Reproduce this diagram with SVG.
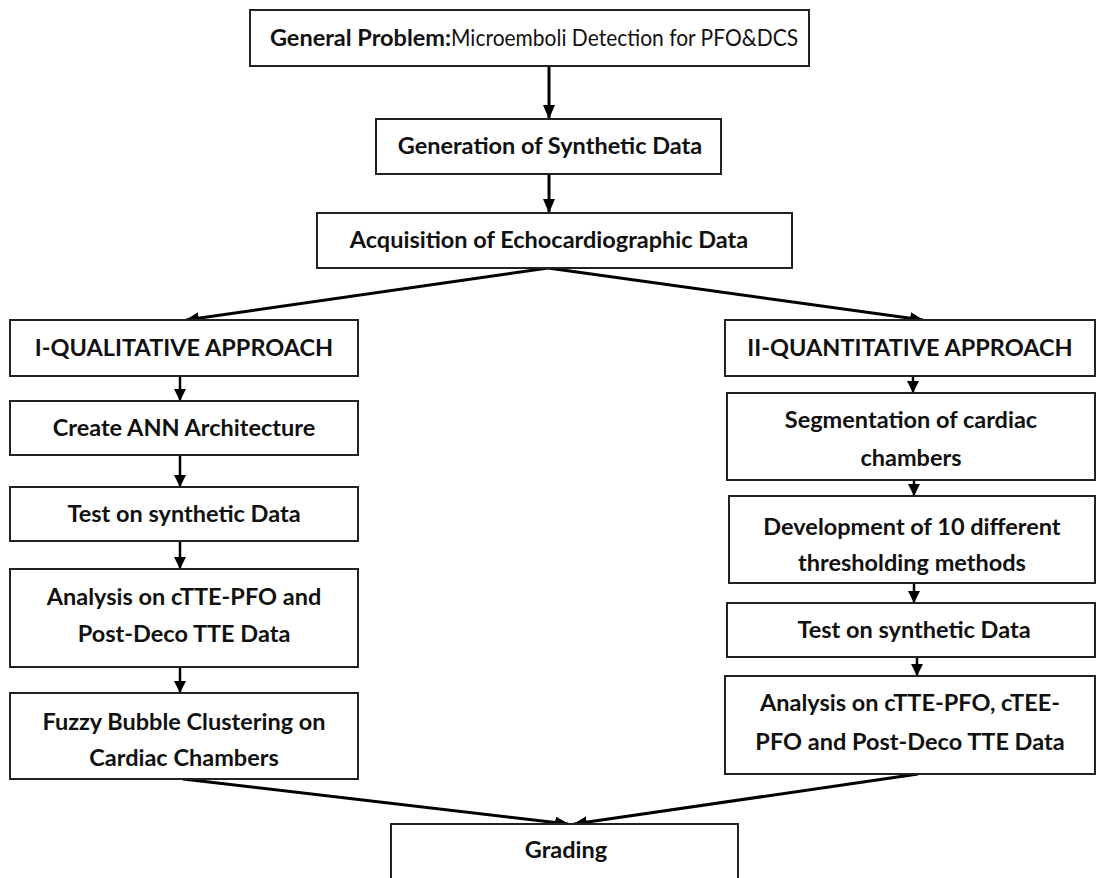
<svg xmlns="http://www.w3.org/2000/svg" width="1097" height="878" viewBox="0 0 1097 878">
<style>
.box{fill:#fff;stroke:#222;stroke-width:2}
.t{font-family:Lato,"Liberation Sans",sans-serif;font-weight:bold;font-size:23.5px;fill:#111;text-anchor:middle}
.r{font-weight:normal}
.c{stroke:#000;stroke-width:3;fill:none}
.s{stroke:#000;stroke-width:2.5;fill:none}
</style>
<defs>
<marker id="ah" markerUnits="userSpaceOnUse" markerWidth="14" markerHeight="12" refX="13" refY="6" orient="auto">
<path d="M0,0 L14,6 L0,12 Z" fill="#000"/>
</marker>
<marker id="ahs" markerUnits="userSpaceOnUse" markerWidth="12" markerHeight="12" refX="11" refY="6" orient="auto">
<path d="M0,0 L12,6 L0,12 Z" fill="#000"/>
</marker>
</defs>
<rect width="1097" height="878" fill="#fff"/>
<g id="connectors">
<line class="c" x1="549" y1="66" x2="549" y2="118" marker-end="url(#ah)"/>
<line class="c" x1="549" y1="174" x2="549" y2="212" marker-end="url(#ah)"/>
<line class="c" x1="548" y1="268" x2="186" y2="320" marker-end="url(#ah)"/>
<line class="c" x1="548" y1="268" x2="923" y2="320" marker-end="url(#ah)"/>
<line class="s" x1="180" y1="376" x2="180" y2="400" marker-end="url(#ahs)"/>
<line class="s" x1="180" y1="455" x2="180" y2="486" marker-end="url(#ahs)"/>
<line class="s" x1="180" y1="541" x2="180" y2="568" marker-end="url(#ahs)"/>
<line class="s" x1="180" y1="667" x2="180" y2="692" marker-end="url(#ahs)"/>
<line class="s" x1="913" y1="376" x2="913" y2="392" marker-end="url(#ahs)"/>
<line class="s" x1="914" y1="480" x2="914" y2="495" marker-end="url(#ahs)"/>
<line class="s" x1="914" y1="583" x2="914" y2="602" marker-end="url(#ahs)"/>
<line class="s" x1="917" y1="657" x2="917" y2="675" marker-end="url(#ahs)"/>
<line class="c" x1="183" y1="779" x2="568" y2="824" marker-end="url(#ah)"/>
<line class="c" x1="918" y1="774" x2="574" y2="824" marker-end="url(#ah)"/>
</g>
<g id="n-general"><rect class="box" x="250" y="10" width="559" height="56"/><text class="t" x="534" y="46">General Problem:<tspan class="r" textLength="347" lengthAdjust="spacingAndGlyphs">Microemboli Detection for PFO&amp;DCS</tspan></text></g>
<g id="n-generation"><rect class="box" x="376" y="119" width="345" height="55"/><text class="t" x="550" y="154">Generation of Synthetic Data</text></g>
<g id="n-acquisition"><rect class="box" x="317" y="213" width="475" height="55"/><text class="t" x="549" y="248">Acquisition of Echocardiographic Data</text></g>
<g id="n-qual"><rect class="box" x="10" y="320" width="348" height="56"/><text class="t" x="184" y="356">I-QUALITATIVE APPROACH</text></g>
<g id="n-ann"><rect class="box" x="10" y="401" width="348" height="54"/><text class="t" x="184" y="436">Create ANN Architecture</text></g>
<g id="n-test-l"><rect class="box" x="10" y="487" width="348" height="54"/><text class="t" x="184" y="522">Test on synthetic Data</text></g>
<g id="n-analysis-l"><rect class="box" x="10" y="569" width="348" height="98"/><text class="t" x="184" y="605">Analysis on cTTE-PFO and</text><text class="t" x="184" y="642">Post-Deco TTE Data</text></g>
<g id="n-fuzzy"><rect class="box" x="10" y="693" width="348" height="86"/><text class="t" x="184" y="730">Fuzzy Bubble Clustering on</text><text class="t" x="184" y="766">Cardiac Chambers</text></g>
<g id="n-quan"><rect class="box" x="725" y="320" width="370" height="56"/><text class="t" x="910" y="356">II-QUANTITATIVE APPROACH</text></g>
<g id="n-seg"><rect class="box" x="727" y="393" width="368" height="87"/><text class="t" x="911" y="428">Segmentation of cardiac</text><text class="t" x="911" y="466">chambers</text></g>
<g id="n-dev"><rect class="box" x="729" y="496" width="366" height="87"/><text class="t" x="912" y="535">Development of 10 different</text><text class="t" x="912" y="571">thresholding methods</text></g>
<g id="n-test-r"><rect class="box" x="727" y="603" width="368" height="54"/><text class="t" x="914" y="638">Test on synthetic Data</text></g>
<g id="n-analysis-r"><rect class="box" x="725" y="676" width="370" height="98"/><text class="t" x="910" y="711">Analysis on cTTE-PFO, cTEE-</text><text class="t" x="910" y="750">PFO and Post-Deco TTE Data</text></g>
<g id="n-grading"><rect class="box" x="391" y="824" width="347" height="60"/><text class="t" x="566" y="858">Grading</text></g>
</svg>
